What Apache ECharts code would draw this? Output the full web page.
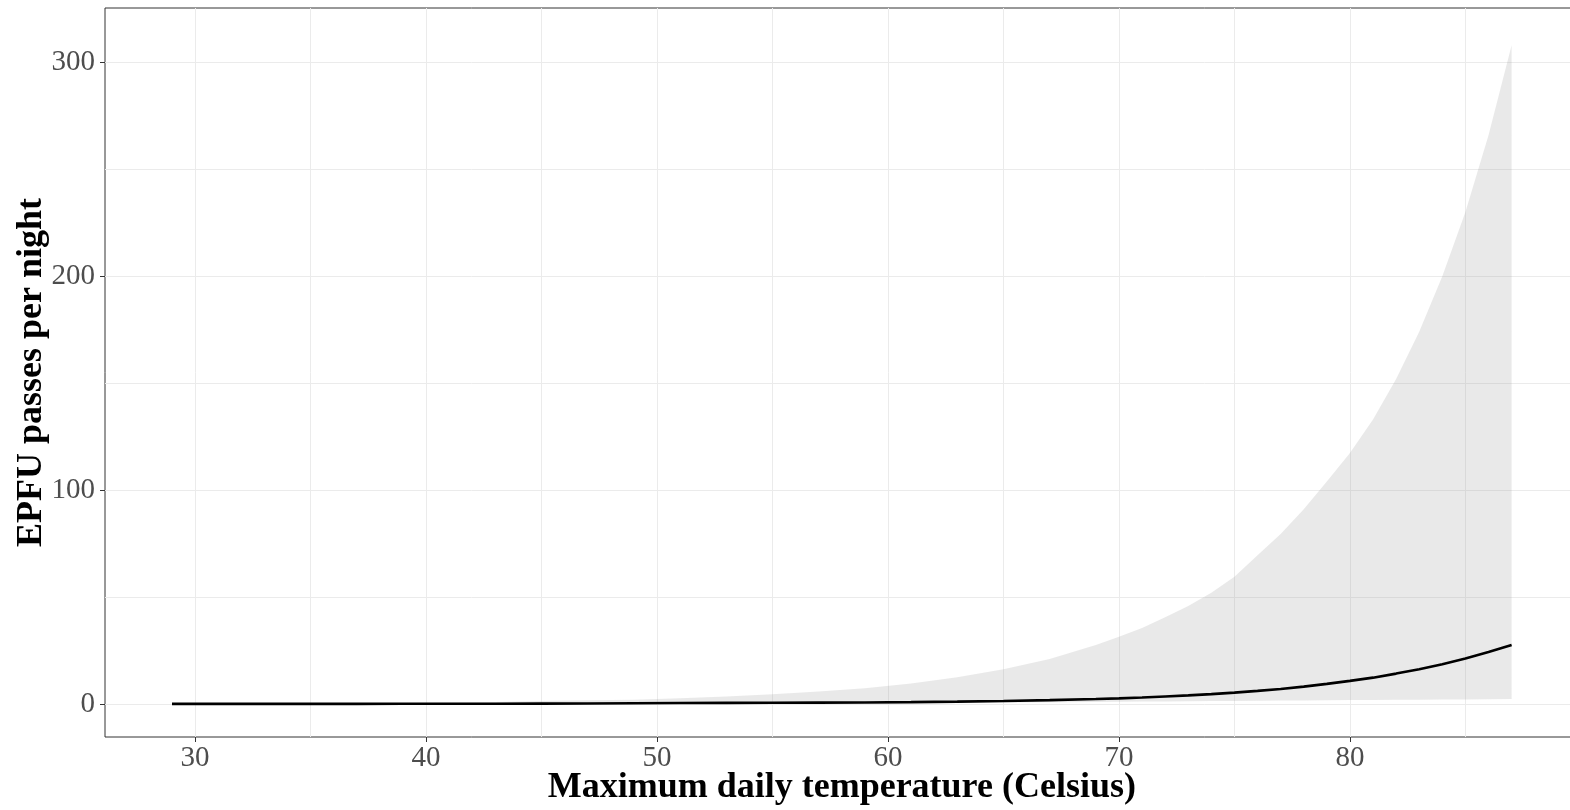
<!DOCTYPE html>
<html>
<head>
<meta charset="utf-8">
<script src="https://cdn.jsdelivr.net/npm/echarts@6/dist/echarts.min.js"></script>
<style>
html,body{margin:0;padding:0;background:#fff;}
#chart{width:1570px;height:810px;}
</style>
</head>
<body>
<div id="chart"></div>
<script>
// Temperature (x) values
const temps = [29,31,33,35,37,39,41,43,45,47,49,51,53,55,57,59,61,63,65,67,69,70,71,72,73,74,75,76,77,78,79,80,81,82,83,84,85,86,87];
// Fitted mean (EPFU passes per night)
const meanVals = [0.02,0.02,0.03,0.04,0.06,0.08,0.10,0.13,0.18,0.24,0.32,0.42,0.50,0.55,0.62,0.70,0.85,1.1,1.4,1.8,2.3,2.6,3.0,3.5,4.0,4.6,5.3,6.1,7.0,8.1,9.4,10.8,12.3,14.2,16.2,18.6,21.3,24.3,27.6];
// Lower confidence bound
const lowerVals = [0.001,0.002,0.003,0.005,0.008,0.012,0.02,0.03,0.05,0.07,0.10,0.13,0.17,0.22,0.28,0.35,0.43,0.53,0.65,0.80,0.95,1.03,1.10,1.20,1.27,1.35,1.43,1.50,1.58,1.65,1.72,1.80,1.87,1.94,2.00,2.07,2.13,2.20,2.30];
// Upper confidence bound
const upperVals = [0.07,0.10,0.15,0.22,0.30,0.45,0.65,0.95,1.4,1.7,2.0,2.7,3.5,4.5,5.8,7.4,9.6,12.5,16.2,21,27.6,31.4,35.5,40.5,45.8,52,59.5,69.5,79.5,91,104,117.4,133,152,174,200,230,266,308];
// Tick labels
const xMajorTicks = [30,40,50,60,70,80];
const xGridTicks = [30,35,40,45,50,55,60,65,70,75,80,85];
const yMajorTicks = [0,100,200,300];
const yGridTicks = [0,50,100,150,200,250,300];

const bandData = temps.map((t,i)=>[t, lowerVals[i], upperVals[i]]);
const meanData = temps.map((t,i)=>[t, meanVals[i]]);

const XMIN = 26.1, XMAX = 89.9, YMIN = -15.45, YMAX = 325.45;
const labelFont = {fontFamily:'Liberation Serif', fontSize:29, color:'#4D4D4D'};
const titleFont = {fontFamily:'Liberation Serif', fontSize:36, fontWeight:'bold', color:'#000'};

function renderBand(params, api){
  if (params.dataIndex !== 0) return null;
  const pts = [];
  for (let i = 0; i < bandData.length; i++) pts.push(api.coord([bandData[i][0], bandData[i][2]]));
  for (let i = bandData.length - 1; i >= 0; i--) pts.push(api.coord([bandData[i][0], bandData[i][1]]));
  return {type:'polygon', shape:{points:pts, smooth:0}, style:{fill:'rgba(153,153,153,0.22)'}};
}

const chart = echarts.init(document.getElementById('chart'), null, {renderer:'canvas'});
chart.setOption({
  animation:false,
  backgroundColor:'#fff',
  grid:{left:105, right:-8.6, top:8, bottom:73, show:true, borderColor:'#333', borderWidth:1, backgroundColor:'transparent', containLabel:false, outerBoundsMode:'none'},
  xAxis:[
    {type:'value', min:XMIN, max:XMAX, position:'bottom',
     name:'Maximum daily temperature (Celsius)', nameLocation:'middle', nameGap:33, nameMoveOverlap:false,
     nameTextStyle:titleFont,
     axisLine:{show:false, onZero:false},
     axisTick:{show:true, length:5, lineStyle:{color:'#333', width:1}, customValues:xMajorTicks},
     axisLabel:Object.assign({customValues:xMajorTicks, margin:7}, labelFont),
     splitLine:{show:false}},
    {type:'value', min:XMIN, max:XMAX, position:'bottom',
     axisLine:{show:false, onZero:false},
     axisTick:{show:false, customValues:xGridTicks},
     axisLabel:{show:false},
     splitLine:{show:true, lineStyle:{color:'#EBEBEB', width:1}}}
  ],
  yAxis:[
    {type:'value', min:YMIN, max:YMAX, position:'left',
     name:'EPFU passes per night', nameLocation:'middle', nameGap:55, nameRotate:90, nameMoveOverlap:false,
     nameTextStyle:titleFont,
     axisLine:{show:false, onZero:false},
     axisTick:{show:true, length:5, lineStyle:{color:'#333', width:1}, customValues:yMajorTicks},
     axisLabel:Object.assign({customValues:yMajorTicks, margin:10}, labelFont),
     splitLine:{show:false}},
    {type:'value', min:YMIN, max:YMAX, position:'left',
     axisLine:{show:false, onZero:false},
     axisTick:{show:false, customValues:yGridTicks},
     axisLabel:{show:false},
     splitLine:{show:true, lineStyle:{color:'#EBEBEB', width:1}}}
  ],
  series:[
    {type:'custom', name:'band', data:bandData, encode:{x:0, y:[1,2]}, renderItem:renderBand, silent:true, z:2},
    {type:'line', name:'mean', data:meanData, symbol:'none', lineStyle:{color:'#000', width:2.6}, z:3}
  ]
});
</script>
</body>
</html>
